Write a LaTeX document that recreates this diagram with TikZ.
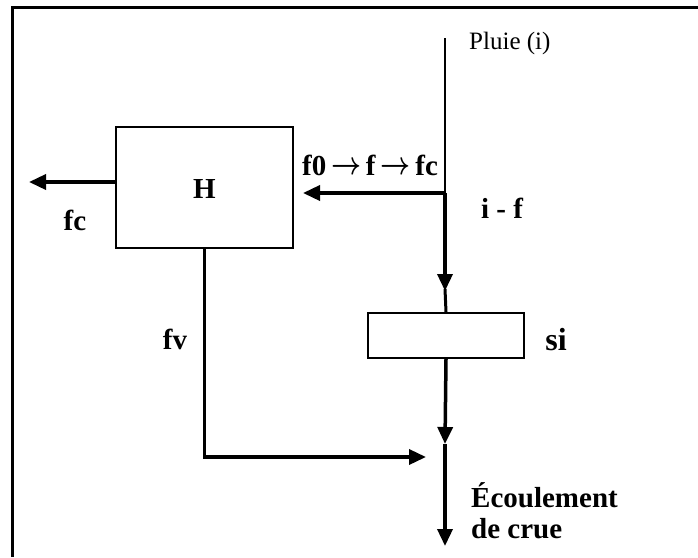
\documentclass[tikz,border=0pt]{standalone}
\usepackage{fontspec}
\setmainfont{Liberation Serif}
\usetikzlibrary{arrows.meta}
\newcommand{\boldarrow}{\raisebox{0.5pt}{\scalebox{1.05}[1.3]{\boldmath$\rightarrow$}}}
\begin{document}
\begin{tikzpicture}[x=1pt,y=-1pt,
  boxs/.style={draw,line width=2pt,inner sep=0pt},
  flow/.style={line width=3.5pt},
  arr/.style={flow,-{Triangle[length=17pt,width=15pt]}},
  lab/.style={font=\fontsize{29}{33}\selectfont\bfseries,inner sep=0pt},
  rlab/.style={font=\fontsize{25}{29}\selectfont,inner sep=0pt}]
\useasboundingbox (0,0) rectangle (698,557);
% frame (left and top edges)
\coordinate (fbl) at (12,557);
\coordinate (ftl) at (12,7);
\coordinate (ftr) at (698,7);
\draw[line width=3pt] (fbl) -- (ftl) -- (ftr);
% boxes
\node[boxs,minimum width=177pt,minimum height=121pt] (H) at (204.5,187.5) {};
\node[lab] (Hl) at (204.5,189) {H};
\node[boxs,minimum width=156pt,minimum height=45pt] (si) at (446,335.5) {};
% coordinates
\coordinate (top) at (445,38);
\coordinate (j) at (445,193);
\coordinate (htip) at (303,193);
\coordinate (a1) at (445,291);
\coordinate (a2) at (445,444);
\coordinate (a3) at (445,546);
\coordinate (fctip) at (29,182);
\coordinate (fvend) at (426,457);
% connectors
\draw[line width=2.5pt] (top) -- (j);
\draw[arr] (j) -- (htip);
\draw[arr] (j) -- (a1);
\draw[line width=3pt] ([yshift=2pt]a1) -- (si.north);
\draw[arr] (si.south) -- (a2);
\draw[arr] (a2) -- (a3);
\draw[arr] ([yshift=5.5pt]H.west) -- (fctip);
\draw[flow,-{Triangle[length=17pt,width=15pt]}] (H.south) |- (fvend);
% labels
\node[rlab,anchor=west] (pluie) at (469,43) {Pluie (i)};
\node[lab] (f0) at (370,165) {f0\,\boldarrow\,f\,\boldarrow\,fc};
\node[lab] (imf) at (502,208) {i - f};
\node[lab] (fc) at (75,220) {fc};
\node[lab] (fv) at (175,339) {fv};
\node[lab,font=\fontsize{32}{36}\selectfont\bfseries] (sil) at (556,340) {si};
\node[lab,anchor=north west,align=left,font=\fontsize{29}{31}\selectfont\bfseries] (ec) at (471,482) {Écoulement\\de crue};
\end{tikzpicture}
\end{document}
